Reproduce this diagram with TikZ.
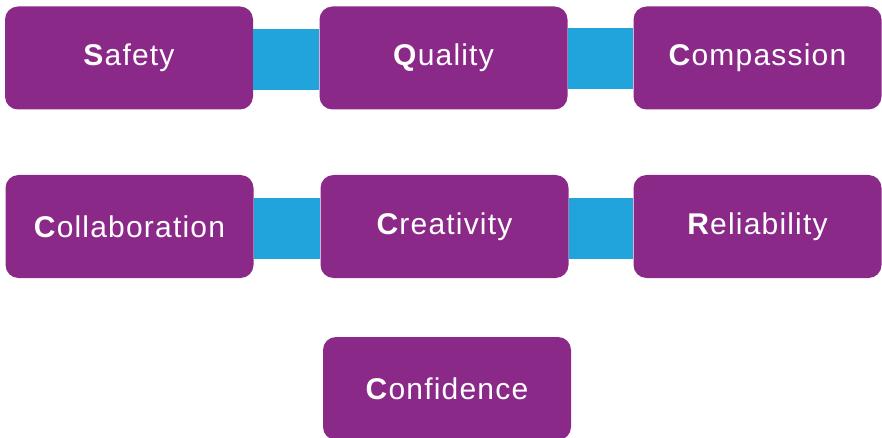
\documentclass[tikz,border=0pt]{standalone}
\usepackage{fontspec}
\setmainfont{Liberation Sans}[LetterSpace=4]
\usetikzlibrary{positioning}

\definecolor{valpurple}{RGB}{139,41,137}
\definecolor{valblue}{RGB}{33,163,220}

\begin{document}
\begin{tikzpicture}[x=1pt,y=-1pt,
    value/.style={fill=valpurple, rounded corners=13pt, minimum width=248pt,
      minimum height=103pt, inner sep=0pt, text=white,
      font=\fontsize{30}{33}\selectfont},
    link/.style={valblue, line width=61pt}]
  \useasboundingbox (0,0) rectangle (882,438);

  % Top row
  \node[value] (safety) at (129,58) {\textbf{S}afety};
  \node[value] (quality) at (443.5,58) {\textbf{Q}uality};
  \node[value] (compassion) at (757.5,58) {\textbf{C}ompassion};
  \draw[link] ([yshift=-2pt]safety.east) -- ([yshift=-2pt]quality.west);
  \draw[link] ([yshift=-1pt]quality.east) -- ([yshift=-1pt]compassion.west);

  % Middle row
  \node[value] (collaboration) at (129.5,226.5) {\textbf{C}ollaboration};
  \node[value] (creativity) at (444.5,226.5) {\textbf{C}reativity};
  \node[value] (reliability) at (757.5,226.5) {\textbf{R}eliability};
  \draw[link] ([yshift=-2pt]collaboration.east) -- ([yshift=-2pt]creativity.west);
  \draw[link] ([yshift=-2pt]creativity.east) -- ([yshift=-2pt]reliability.west);

  % Bottom
  \node[value] (confidence) at (447,388.5) {\textbf{C}onfidence};
\end{tikzpicture}
\end{document}
